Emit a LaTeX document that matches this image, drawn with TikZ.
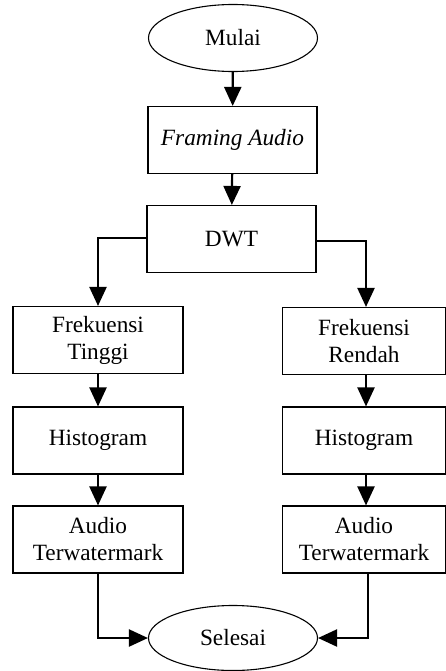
\documentclass[tikz,border=0pt]{standalone}
\usepackage{fontspec}
\setmainfont{Liberation Serif}
\usetikzlibrary{arrows.meta,shapes.geometric}
\begin{document}
\begin{tikzpicture}[x=1pt,y=1pt,
  every node/.style={font=\fontsize{23.3}{27}\selectfont, align=center, inner sep=0pt},
  proc/.style={draw, line width=1.1pt, minimum height=67pt},
  term/.style={draw, ellipse, line width=1.1pt, minimum width=169pt, minimum height=67pt},
  flow/.style={line width=2.2pt, -{Triangle[length=19pt,width=17pt]}}]
\useasboundingbox (0,0) rectangle (446,-671);

% start / end terminals
\node[term] (mulai) at (233,-38) {Mulai};
\node[term, minimum height=65pt] (selesai) at (233,-638) {Selesai};

% main column
\node[proc, minimum width=169pt] (framing) at (232.5,-140) {\itshape Framing Audio};
\node[proc, minimum width=169pt] (dwt) at (231.5,-239) {DWT};

% left branch
\node[proc, minimum width=170pt] (ft) at (98,-340) {Frekuensi\\Tinggi};
\node[proc, minimum width=170pt] (hl) at (98,-440.5) {Histogram};
\node[proc, minimum width=170pt] (al) at (98,-539.5) {Audio\\Terwatermark};

% right branch
\node[proc, minimum width=163pt] (fr) at (364,-341) {Frekuensi\\Rendah};
\node[proc, minimum width=163pt] (hr) at (364,-440.5) {Histogram};
\node[proc, minimum width=163pt] (ar) at (364,-539.5) {Audio\\Terwatermark};

% connectors
\draw[flow] (mulai) -- (framing);
\draw[flow] (framing) -- (dwt);
\draw[flow] (dwt.west) ++(0,1) -| (ft.north);
\draw[flow] (dwt.east) ++(0,-2) -| ([xshift=2pt]fr.north);
\draw[flow] (ft) -- (hl);
\draw[flow] ([xshift=2pt]fr.south) -- ([xshift=2pt]hr.north);
\draw[flow] (hl) -- (al);
\draw[flow] ([xshift=2pt]hr.south) -- ([xshift=2pt]ar.north);
\draw[flow] (al.south) |- (selesai.west);
\draw[flow] ([xshift=4pt]ar.south) |- (selesai.east);
\end{tikzpicture}
\end{document}
